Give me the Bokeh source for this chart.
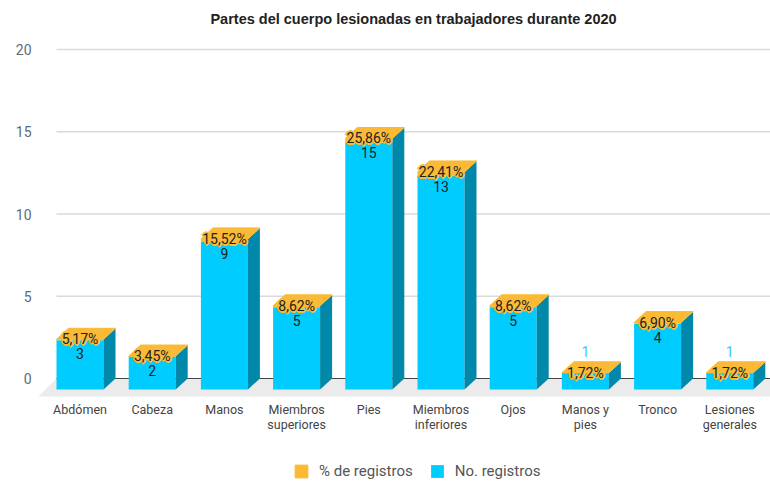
import numpy as np
from bokeh.plotting import figure
from bokeh.models import Range1d, ColumnDataSource, Legend, LegendItem
from bokeh.core.properties import value
from bokeh.embed import file_html
from bokeh.resources import INLINE

# ---------------- data ----------------
title_text = "Partes del cuerpo lesionadas en trabajadores durante 2020"
categories = ["Abdómen", "Cabeza", "Manos", "Miembros\nsuperiores", "Pies",
              "Miembros\ninferiores", "Ojos", "Manos y\npies", "Tronco", "Lesiones\ngenerales"]
counts = [3, 2, 9, 5, 15, 13, 5, 1, 4, 1]
percents = [5.17, 3.45, 15.52, 8.62, 25.86, 22.41, 8.62, 1.72, 6.90, 1.72]
y_ticks = [0, 5, 10, 15, 20]
series_names = ["% de registros", "No. registros"]

# ---------------- styling / geometry (page pixels) ----------------
FONT = "Roboto"
C_FRONT = "#00ccff"
C_SIDE = "#0088aa"
C_TOP = "#fbba35"
C_FLOOR = "#ebebeb"
C_GRID = "#dadada"
C_TXT = "#222222"

ORG = 0                              # page offset of the figure
W, H = 770, 482
CAT0_X, CAT_STEP = 79.5, 72.2       # page x of first front-face centre, step
ZERO_Y, UNIT_PX = 378.0, 16.45      # page y of value 0, px per unit
DEPTH_X, DEPTH_Y = 12.0, 11.0       # 3D depth offset (px)
HALF_W = 23.5                       # half width of a bar front (px)


def px_x(X):
    return (X - CAT0_X) / CAT_STEP


def px_y(Y):
    return (ZERO_Y - Y) / UNIT_PX


dx = DEPTH_X / CAT_STEP
dy = DEPTH_Y / UNIT_PX
hw = HALF_W / CAT_STEP

p = figure(width=W, height=H, output_backend="svg", toolbar_location=None,
           x_range=Range1d(px_x(ORG), px_x(ORG + W)), y_range=Range1d(px_y(ORG + H), px_y(ORG)),
           min_border=0, outline_line_color=None)
p.axis.visible = False
p.grid.visible = False
p.background_fill_color = "white"

x_wall = px_x(56)
x_end = px_x(ORG + W)

# grid lines (back wall)
gt = [t for t in y_ticks if t != 0]
p.segment(x0=[x_wall] * len(gt), x1=[x_end] * len(gt), y0=gt, y1=gt,
          line_color=C_GRID, line_width=1.5)

# floor
fdy = 18.0 / UNIT_PX
p.patch([x_wall, x_end + 1, x_end + 1, px_x(38)], [0, 0, -fdy, -fdy],
        fill_color=C_FLOOR, line_color=None)
p.segment(x0=[x_wall], x1=[x_end + 1], y0=[0], y1=[0], line_color="#444444", line_width=1.2)

# y tick labels
p.text(x=[px_x(31)] * len(y_ticks), y=y_ticks, text=[str(t) for t in y_ticks],
       text_align="right", text_baseline="middle", text_font=value(FONT),
       text_font_size="14px", text_color="#5d6b78")

# bars
xi = np.arange(len(categories), dtype=float)
v = np.array(counts, dtype=float)
pf = np.array(percents) / 100.0
tot = v + pf

src = ColumnDataSource(dict(
    left=xi - hw, right=xi + hw, bottom=np.full_like(xi, -dy),
    top_blue=v - dy, top_all=tot - dy,
))
blue = p.quad(left="left", right="right", bottom="bottom", top="top_blue", source=src,
              fill_color=C_FRONT, line_color=None)
p.quad(left="left", right="right", bottom="top_blue", top="top_all", source=src,
       fill_color=C_TOP, line_color=None)

side_xs = [[x + hw, x + hw + dx, x + hw + dx, x + hw] for x in xi]
side_ys = [[-dy, 0, t, t - dy] for t in tot]
p.patches(side_xs, side_ys, fill_color=C_SIDE, line_color=None)

top_xs = [[x - hw, x - hw + dx, x + hw + dx, x + hw] for x in xi]
top_ys = [[t - dy, t, t, t - dy] for t in tot]
orange = p.patches(top_xs, top_ys, fill_color=C_TOP, line_color=C_TOP, line_width=1)

# percent labels with orange halo
pct_text = [f"{q:.2f}".replace(".", ",") + "%" for q in percents]
for ox, oy in [(-1, -1), (0, -1), (1, -1), (-1, 0), (1, 0), (-1, 1), (0, 1), (1, 1),
               (-2, 0), (2, 0), (0, -2), (0, 2)]:
    p.text(x=xi, y=tot - dy, text=pct_text, x_offset=ox, y_offset=oy,
           text_align="center", text_baseline="middle", text_font=value(FONT),
           text_font_size="14px", text_color=C_TOP)
p.text(x=xi, y=tot - dy, text=pct_text, text_align="center", text_baseline="middle",
       text_font=value(FONT), text_font_size="14px", text_color=C_TXT)

# count labels
inside = v * UNIT_PX >= 25
cnt_text = [str(c) for c in counts]
p.text(x=xi[inside], y=(tot - dy)[inside], text=[t for t, k in zip(cnt_text, inside) if k],
       y_offset=14.5, text_align="center", text_baseline="middle", text_font=value(FONT),
       text_font_size="14px", text_color=C_TXT)
out = ~inside
p.text(x=xi[out], y=tot[out], text=[t for t, k in zip(cnt_text, out) if k],
       y_offset=-10, text_align="center", text_baseline="middle", text_font=value(FONT),
       text_font_size="14px", text_color="#33ccff")

# category labels
p.text(x=xi, y=[px_y(401)] * len(xi), text=categories, text_align="center",
       text_baseline="top", text_font=value(FONT), text_font_size="12.5px",
       text_color="#444444", text_line_height=1.05)

# title
p.text(x=[px_x(413)], y=[px_y(18)], text=[title_text], text_align="center",
       text_baseline="middle", text_font=value("Liberation Sans"), text_font_size="14.5px",
       text_font_style="bold", text_color=C_TXT)

legend = Legend(items=[LegendItem(label=series_names[0], renderers=[orange]),
                       LegendItem(label=series_names[1], renderers=[blue])],
                orientation="horizontal", location=(293, 2),
                glyph_width=16, glyph_height=16, label_standoff=10, spacing=16,
                label_text_font=FONT, label_text_font_size="15px", label_text_color="#555555",
                padding=0, margin=0, border_line_color=None, background_fill_alpha=0)
p.add_layout(legend)

open("out.html", "w").write(file_html(p, INLINE))
